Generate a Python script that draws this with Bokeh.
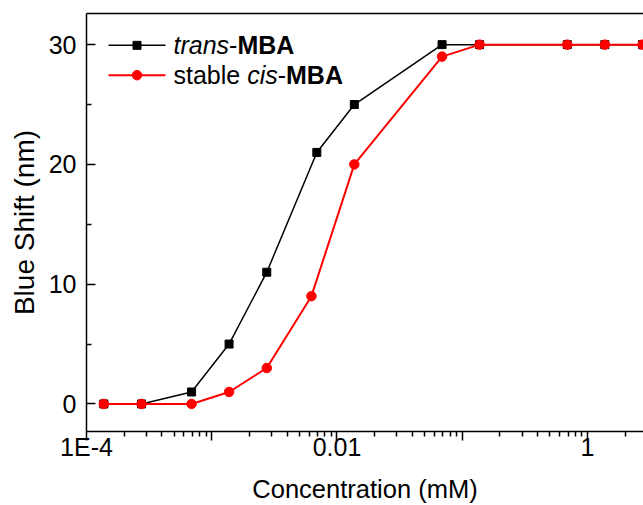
import numpy as np
from bokeh.plotting import figure
from bokeh.models import LogAxis, FixedTicker, CustomJSTickFormatter, Range1d, Title
from bokeh.core.properties import value
from bokeh.embed import file_html
from bokeh.resources import INLINE

# ---- data ----
conc_trans = [0.0001375, 0.000275, 0.00069, 0.001375, 0.00275, 0.0069,
              0.01375, 0.069, 0.1375, 0.69, 1.375, 2.75]
shift_trans = [0, 0, 1, 5, 11, 21, 25, 30, 30, 30, 30, 30]
conc_cis = [0.0001375, 0.000275, 0.00069, 0.001375, 0.00275, 0.00625,
            0.01375, 0.069, 0.1375, 0.69, 1.375, 2.75]
shift_cis = [0, 0, 0, 1, 3, 9, 20, 29, 30, 30, 30, 30]

x_tick_values = [1e-4, 1e-3, 1e-2, 1e-1, 1, 10]
x_tick_labels = ["1E-4", "", "0.01", "", "1", ""]
y_tick_values = [0, 10, 20, 30]
y_minor_values = [5, 15, 25]

FONT = "Liberation Sans"
FS = "25px"
W, H = 643, 505
BL, BT, BB, BR = 86, 13, 72, 0
FT = BT                      # frame top
FW, FH = W - BL - BR, H - FT - BB
X0, X1 = 1e-4, 2.8
Y0, Y1 = -2.3, 32.6

p = figure(width=W, height=H, x_axis_type="log",
           x_range=Range1d(X0, X1), y_range=Range1d(Y0, Y1),
           output_backend="svg", toolbar_location=None,
           min_border_left=BL, min_border_top=BT,
           min_border_bottom=BB, min_border_right=BR)
p.grid.visible = False
p.outline_line_color = None
p.background_fill_color = "white"
p.border_fill_color = "white"

# x axis
xminor = [m * 10.0 ** e for e in range(-4, 1) for m in range(2, 10)]
xa = p.xaxis[0]
xa.ticker = FixedTicker(ticks=x_tick_values, minor_ticks=xminor)
xa.formatter = CustomJSTickFormatter(
    args=dict(vals=x_tick_values, labs=x_tick_labels),
    code="""
for (let i = 0; i < vals.length; i++) {
  if (Math.abs(Math.log10(tick) - Math.log10(vals[i])) < 1e-6) return labs[i];
}
return "";
""")
xa.axis_label = "Concentration (mM)"
xa.major_tick_in = 0
xa.major_tick_out = 9
xa.minor_tick_in = 0
xa.minor_tick_out = 5
xa.major_label_standoff = -8
xa.axis_label_standoff = 11

# y axis
ya = p.yaxis[0]
ya.ticker = FixedTicker(ticks=y_tick_values, minor_ticks=y_minor_values)
ya.major_tick_in = 9
ya.major_tick_out = 0
ya.minor_tick_in = 5
ya.minor_tick_out = 0
ya.major_label_standoff = 10

for ax in (xa, ya):
    ax.axis_line_width = 1.5
    ax.axis_line_color = "black"
    ax.major_tick_line_width = 1.5
    ax.minor_tick_line_width = 1.5
    ax.major_tick_line_color = "black"
    ax.minor_tick_line_color = "black"
    ax.major_label_text_font = FONT
    ax.major_label_text_font_size = FS
    ax.major_label_text_color = "black"
    ax.axis_label_text_font = FONT
    ax.axis_label_text_font_size = "25.5px"
    ax.axis_label_text_font_style = "normal"
    ax.axis_label_text_color = "black"

# y-axis title as a left-side Title (allows shifting it like the reference)
ytitle = Title(text="Blue Shift (nm)", align="center", offset=-32,
               text_font=FONT, text_font_size="28px", text_font_style="normal",
               text_color="black", standoff=11)
p.add_layout(ytitle, "left")

# top border as an axis without ticks
top = LogAxis(ticker=FixedTicker(ticks=[]), axis_line_width=1.5,
              axis_line_color="black", major_tick_line_color=None,
              minor_tick_line_color=None, major_label_text_font_size="0px")
p.add_layout(top, "above")

# series
p.line(conc_trans, shift_trans, line_color="black", line_width=1.5)
p.scatter(conc_trans, shift_trans, marker="square", size=8,
          fill_color="black", line_color="black")
p.line(conc_cis, shift_cis, line_color="#ff0000", line_width=2)
p.scatter(conc_cis, shift_cis, marker="circle", size=9.5,
          fill_color="#ff0000", line_color="#ff0000")

# helpers: pixel offsets inside the frame -> data coordinates
def fx(px):
    lo, hi = np.log10(X0), np.log10(X1)
    return 10 ** (lo + px / FW * (hi - lo))

def fy(py):
    return Y1 - py / FH * (Y1 - Y0)

# legend (drawn by hand to allow mixed italic / bold text)
fsz = 25.0
rows = [32, 62]
p.line([fx(22), fx(79)], [fy(rows[0])] * 2, line_color="black", line_width=1.5)
p.scatter([fx(50.5)], [fy(rows[0])], marker="square", size=8,
          fill_color="black", line_color="black")
p.line([fx(22), fx(79)], [fy(rows[1])] * 2, line_color="#ff0000", line_width=2)
p.scatter([fx(50.5)], [fy(rows[1])], marker="circle", size=9.5,
          fill_color="#ff0000", line_color="#ff0000")

def put(px, row, txt, style):
    p.text(x=[fx(px)], y=[fy(row)], text=[txt], text_font=value(FONT),
           text_font_size=FS, text_font_style=style, text_color="black",
           text_baseline="middle", text_align="left")

t0 = 87
put(t0, rows[0], "trans", "italic")
w1 = 2.223 * fsz
put(t0 + w1, rows[0], "-", "normal")
put(t0 + w1 + 0.333 * fsz, rows[0], "MBA", "bold")

w2 = 2.946 * fsz
put(t0, rows[1], "stable ", "normal")
put(t0 + w2, rows[1], "cis", "italic")
w3 = w2 + 1.222 * fsz
put(t0 + w3, rows[1], "-", "normal")
put(t0 + w3 + 0.333 * fsz, rows[1], "MBA", "bold")

open("out.html", "w").write(file_html(p, INLINE))
